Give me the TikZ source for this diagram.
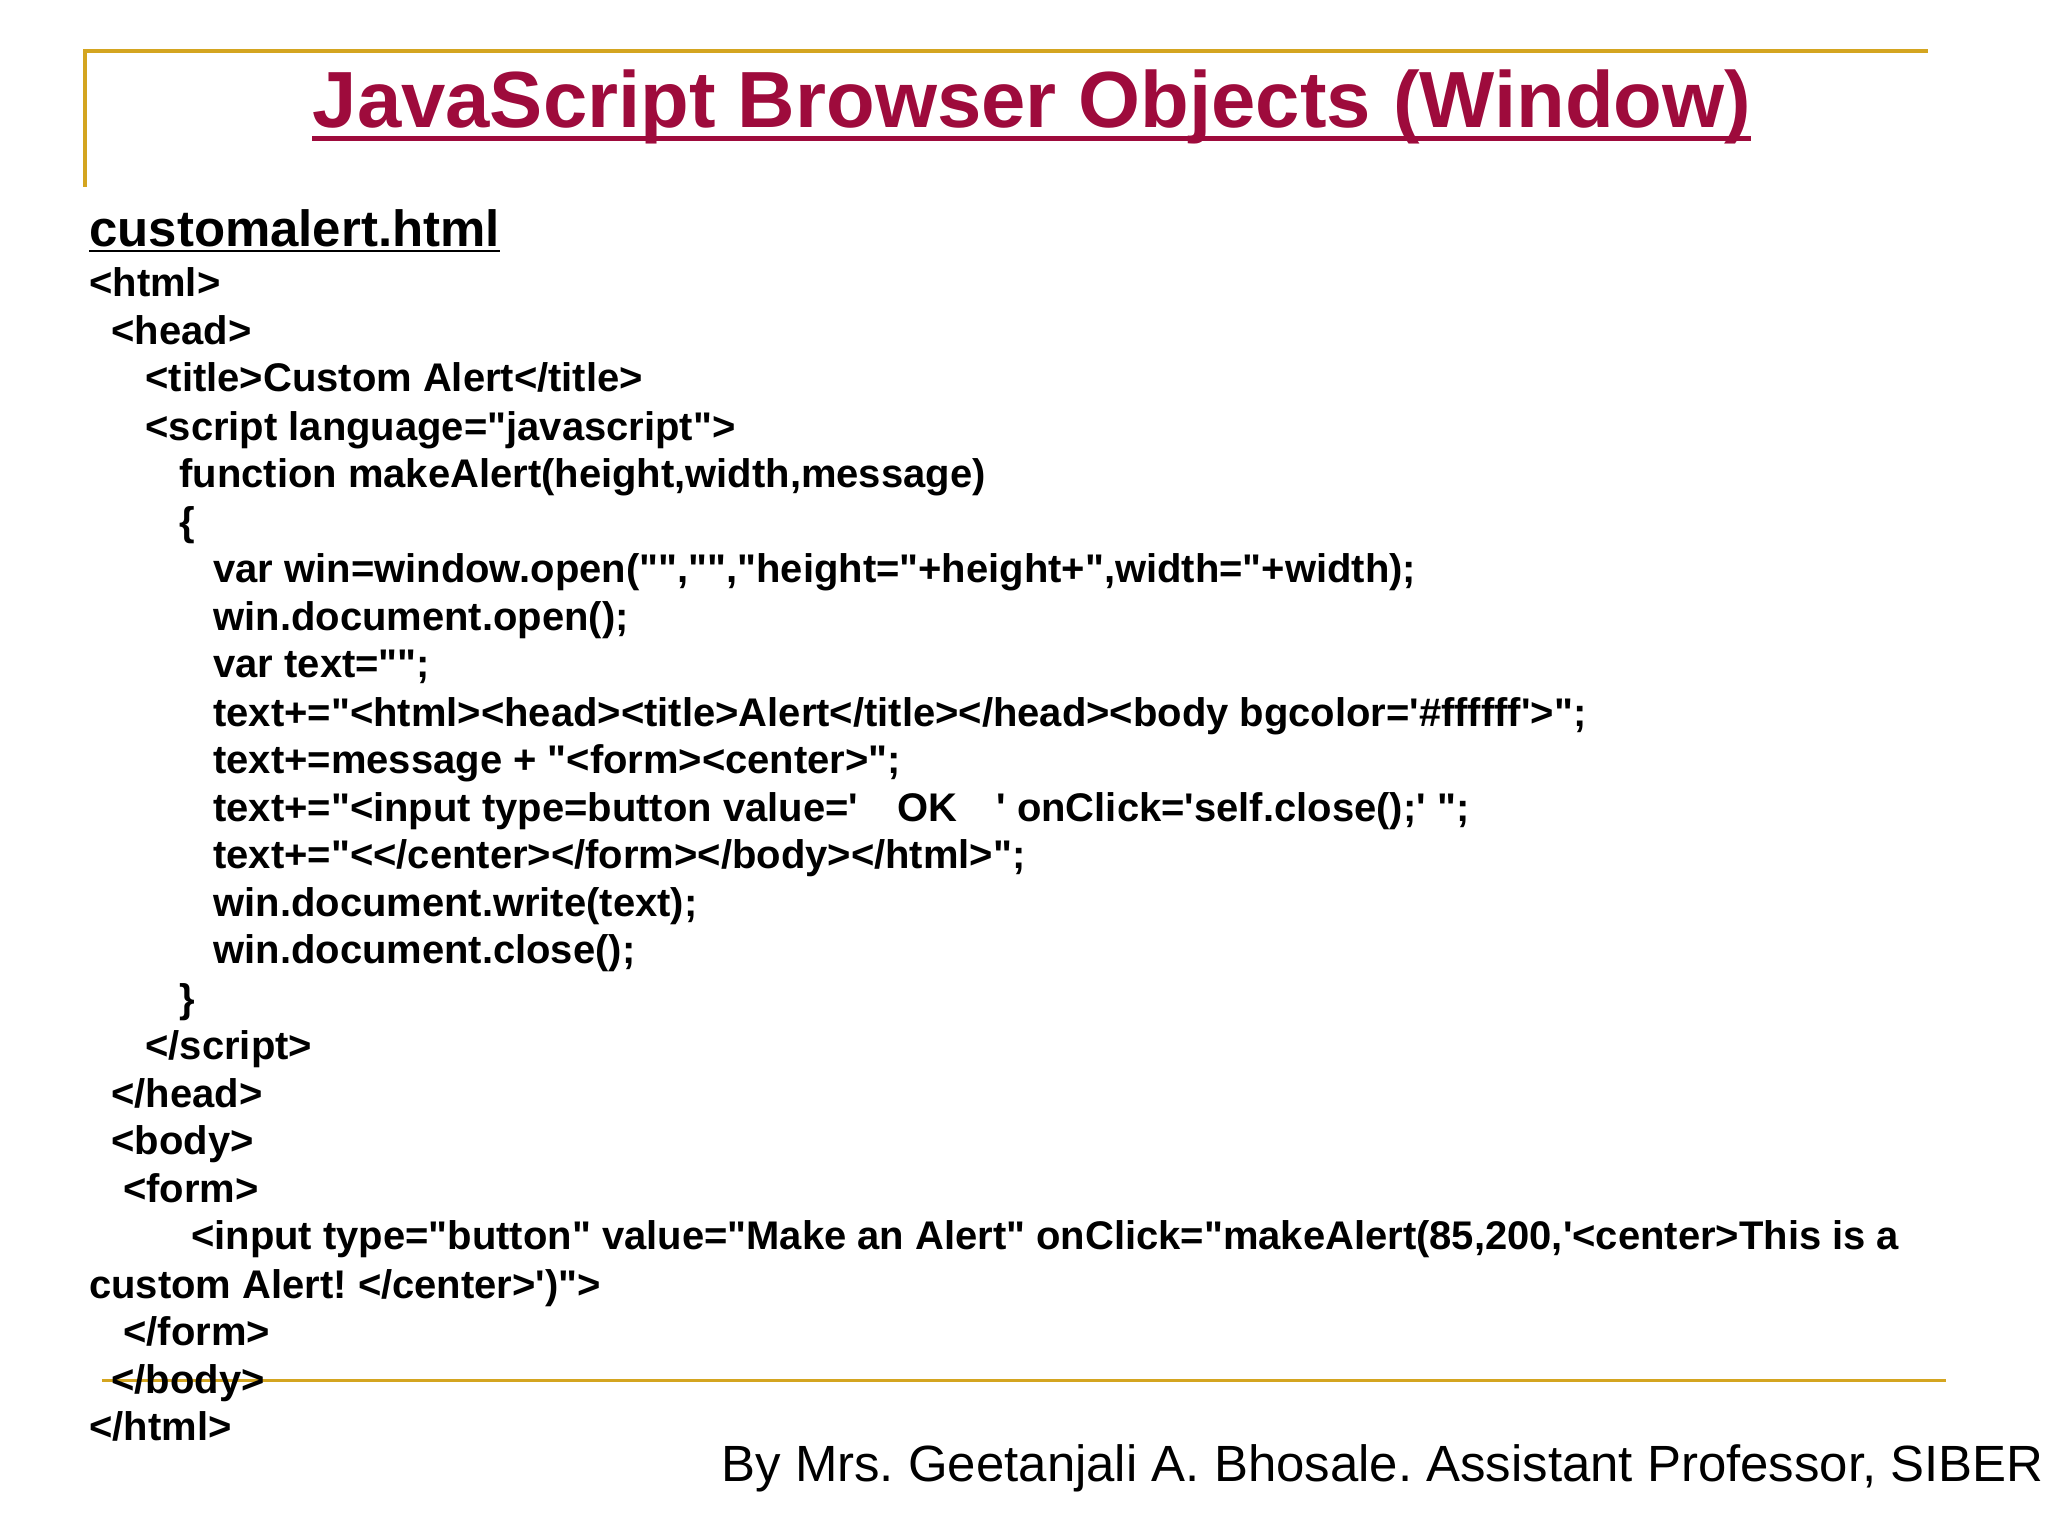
\documentclass[tikz,border=0pt]{standalone}
\usepackage{fontspec}
\newfontfamily\cf{Liberation Sans}
\definecolor{gold}{HTML}{D4A520}
\definecolor{titred}{HTML}{9E0B3C}
\tikzset{cl/.style={anchor=base west,inner sep=0pt,font=\cf\bfseries\fontsize{15.3}{18}\selectfont}}
\begin{document}
\frenchspacing
\begin{tikzpicture}[x=0.5pt,y=-0.5pt]
\useasboundingbox (0,0) rectangle (1568,1176);
\draw[gold,line width=1.5pt] (65,143) -- (65,39) -- (1476,39);
\draw[gold,line width=1.3pt] (78,1057) -- (1490,1057);
\node[anchor=base,inner sep=0pt,text=titred,font=\cf\bfseries\fontsize{30.5}{34}\selectfont] (title) at (790,98) {JavaScript Browser Objects (Window)};
\draw[titred,line width=1.8pt] (title.base west)++(0,8) -- ([yshift=-4pt]title.base east);
\node[cl,font=\cf\bfseries\fontsize{19.5}{22}\selectfont] (fn) at (68,189) {\underline{customalert.html}};
\node[cl] (a1) at (68,227) {<html>};
\node[cl] (a2) at (85,264) {<head>};
\node[cl] (a3) at (111,300) {<title>Custom Alert</title>};
\node[cl] (a4) at (111,337) {<script language="javascript">};
\node[cl] (a5) at (137,373) {function makeAlert(height,width,message)};
\node[cl] (a6) at (137,410) {\{};
\node[cl] (a7) at (163,446) {var win=window.open("","","height="+height+",width="+width);};
\node[cl] (a8) at (163,483) {win.document.open();};
\node[cl] (a9) at (163,519) {var text="";};
\node[cl] (a10) at (163,556) {text+="<html><head><title>Alert</title></head><body bgcolor='\#ffffff'>";};
\node[cl] (a11) at (163,592) {text+=message + "<form><center>";};
\node[cl] (a12) at (163,629) {text+="<input type=button value='\hspace{15pt}OK\hspace{15pt}' onClick='self.close();' ";};
\node[cl] (a13) at (163,665) {text+="<</center></form></body></html>";};
\node[cl] (a14) at (163,702) {win.document.write(text);};
\node[cl] (a15) at (163,738) {win.document.close();};
\node[cl] (a16) at (137,775) {\}};
\node[cl] (a17) at (111,811) {</script>};
\node[cl] (a18) at (85,848) {</head>};
\node[cl] (a19) at (85,884) {<body>};
\node[cl] (a20) at (94,921) {<form>};
\node[cl] (a21) at (146,957) {<input type="button" value="Make an Alert" onClick="makeAlert(85,200,'<center>This is a};
\node[cl] (a22) at (68,994) {custom Alert! </center>')">};
\node[cl] (a23) at (94,1030) {</form>};
\node[cl] (a24) at (85,1067) {</body>};
\node[cl] (a25) at (68,1103) {</html>};
\node[anchor=base west,inner sep=0pt,font=\cf\fontsize{19.5}{22}\selectfont] (by) at (552,1134) {By Mrs. Geetanjali A. Bhosale. Assistant Professor, SIBER};
\end{tikzpicture}
\end{document}
